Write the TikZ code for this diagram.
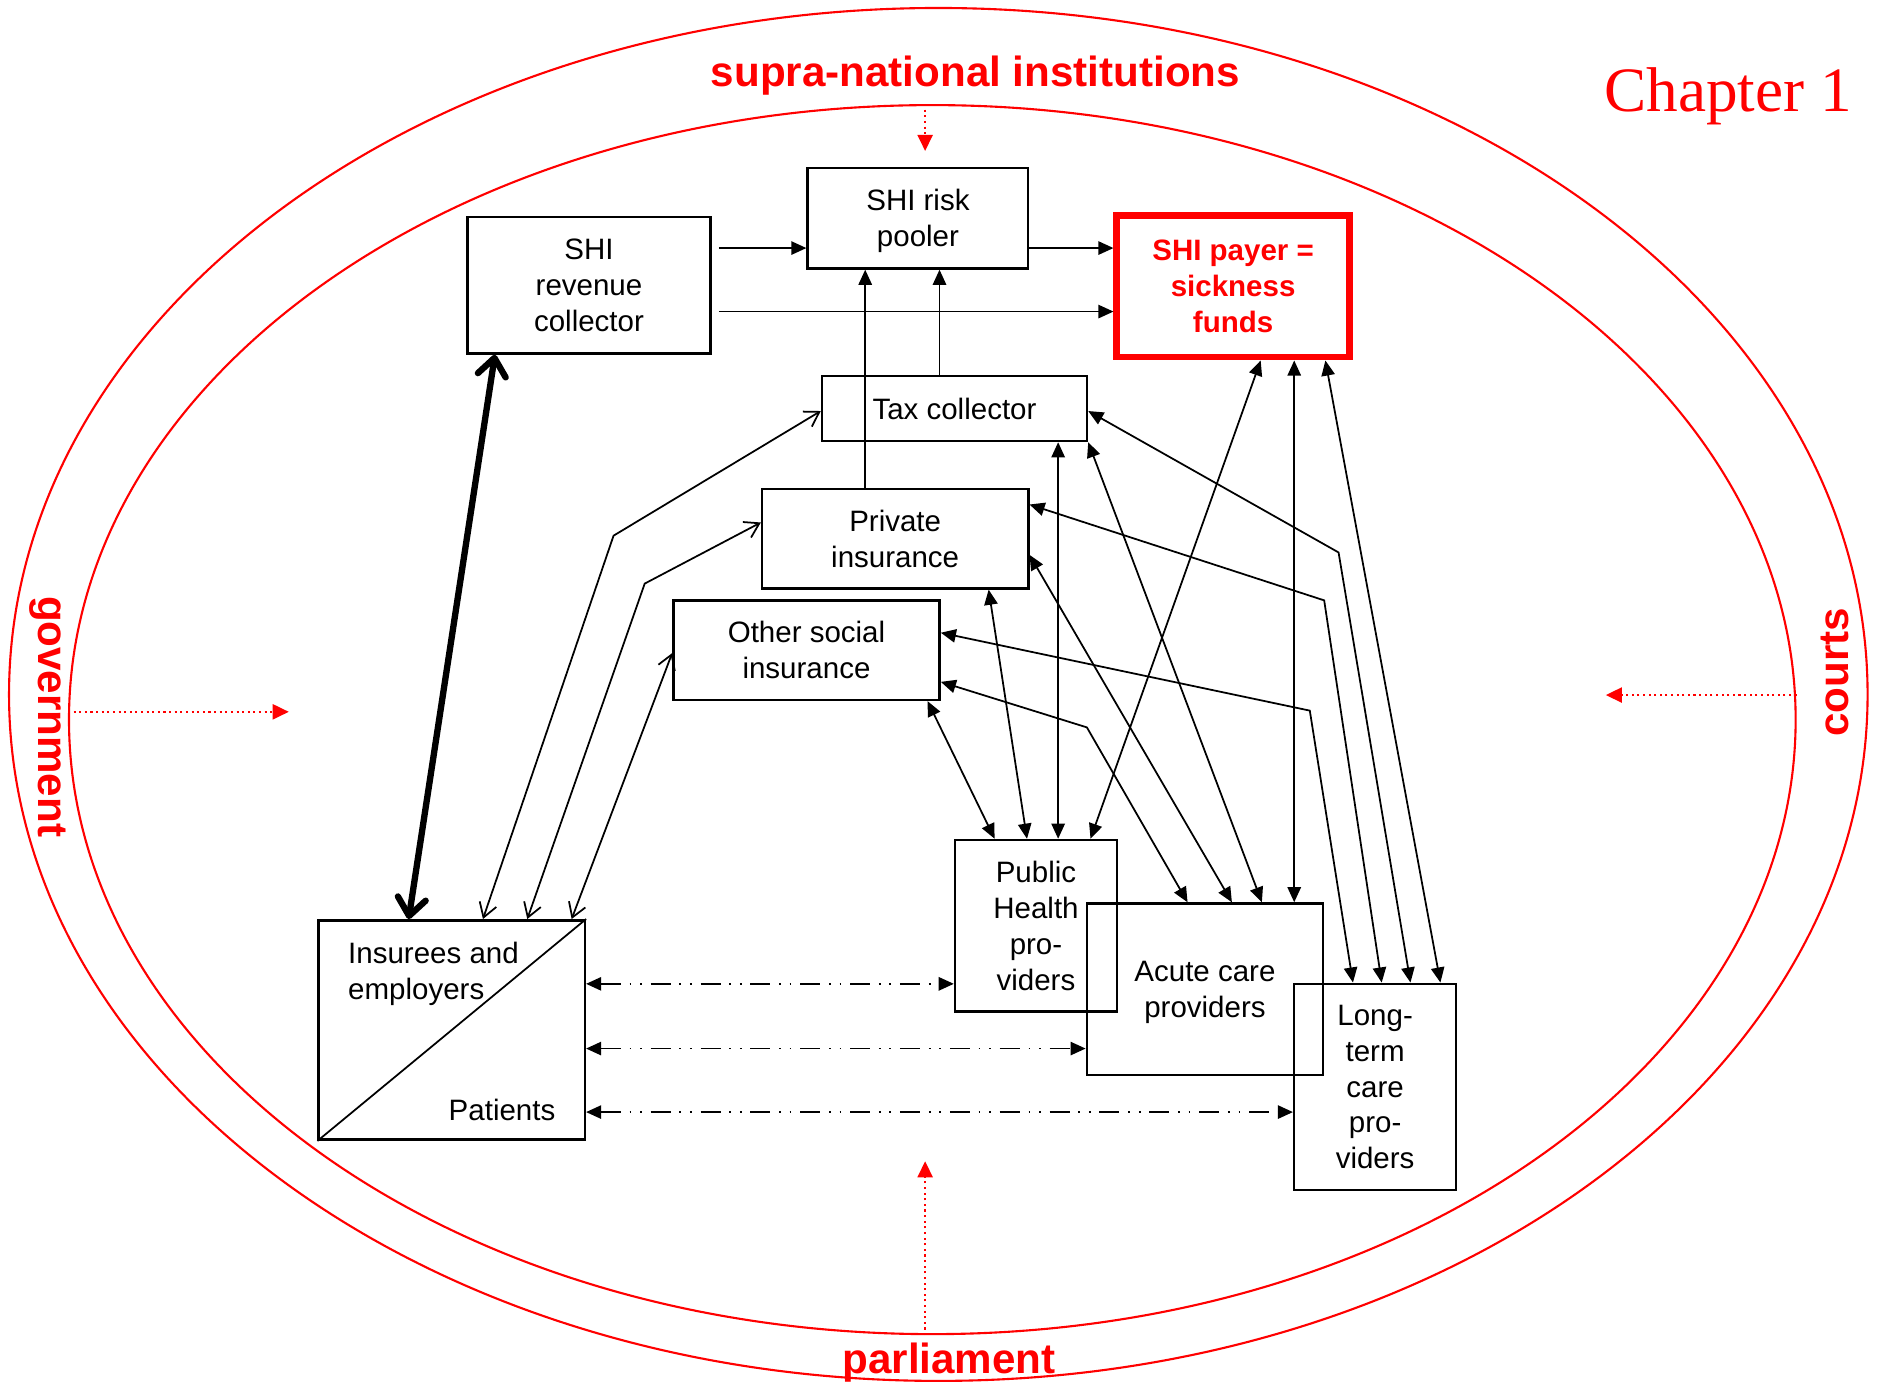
\documentclass[tikz,border=0pt]{standalone}
\usepackage{fontspec}
\setmainfont{Liberation Sans}
\newfontfamily\chapfont{Liberation Serif}
\usepackage{tikz}
\usetikzlibrary{arrows.meta,shapes.geometric}

\begin{document}
\begin{tikzpicture}[x=0.012cm,y=-0.012cm,
	box/.style={draw,line width=0.7pt,inner sep=0pt,align=center,text depth=0pt,
		font=\fontsize{8.4}{10.2}\selectfont},
	paybox/.style={box,draw=red,line width=1.9pt,text=red,
		font=\bfseries\fontsize{8.4}{10.2}\selectfont},
	ring/.style={draw=red,line width=0.6pt,ellipse,inner sep=0pt},
	lbl/.style={text=red,inner sep=0pt,font=\bfseries\fontsize{12}{14}\selectfont},
	flow/.style={line width=0.5pt,-{Triangle[length=4.3pt,width=3.8pt]}},
	flowboth/.style={line width=0.5pt,
		{Triangle[length=4.3pt,width=3.8pt]}-{Triangle[length=4.3pt,width=3.8pt]}},
	openboth/.style={line width=0.5pt,
		{Straight Barb[length=4pt,width=5pt]}-{Straight Barb[length=4pt,width=5pt]}},
	thickboth/.style={line width=1.8pt,line cap=round,
		{Straight Barb[length=5pt,width=8pt,line cap=round,line join=round]}-{Straight Barb[length=5pt,width=8pt,line cap=round,line join=round]}},
	dashboth/.style={flowboth,dash pattern=on 5.7pt off 2.5pt on 0.5pt off 2.5pt on 0.5pt off 2.5pt},
	govarr/.style={red,line width=0.6pt,densely dotted,-{Triangle[length=4.6pt,width=4.3pt]}}
	]
	\useasboundingbox (0,0) rectangle (1568,1153);
	%% rings
	\node[ring,minimum width=18.6cm,minimum height=13.74cm] (outer) at (783,579.5) {};
	\node[ring,minimum width=17.28cm,minimum height=12.3cm] (inner) at (778,600.5) {};
	\node[lbl,anchor=base] (supra) at (814,72) {supra-national institutions};
	\node[lbl,anchor=base] (parl) at (792,1146) {parliament};
	\node[lbl,rotate=-90] (govt) at (40,598) {government};
	\node[lbl,rotate=90] (court) at (1531,561) {courts};
	\node[text=red,inner sep=0pt,anchor=base,font=\chapfont\fontsize{18}{20}\selectfont] (chap) at (1442,93) {Chapter 1};
	\coordinate (supratip) at (772,126);
	\coordinate (parltip) at (772,969);
	\coordinate (govtip) at (241,594);
	\coordinate (courttip) at (1340,580);
	%% boxes
	\node[box,minimum width=2.436cm,minimum height=1.368cm] (srev) at (491.5,238) {SHI\\revenue\\collector};
	\node[box,minimum width=2.208cm,minimum height=1.008cm] (pool) at (766,182) {SHI risk\\pooler};
	\node[paybox,minimum width=2.328cm,minimum height=1.416cm] (payer) at (1029,239) {SHI payer =\\sickness\\funds};
	\node[box,minimum width=2.652cm,minimum height=0.648cm] (tax) at (796.5,341) {Tax collector};
	\node[box,minimum width=2.664cm,minimum height=0.996cm] (priv) at (747,449.5) {Private\\insurance};
	\node[box,minimum width=2.664cm,minimum height=0.996cm] (oth) at (673,542.5) {Other social\\insurance};
	\node[box,minimum width=1.62cm,minimum height=1.716cm] (pub) at (864.5,772.5) {Public\\Health\\pro-\\viders};
	\node[box,minimum width=2.364cm,minimum height=1.716cm] (acu) at (1005.5,825.5) {Acute care\\providers};
	\node[box,minimum width=1.62cm,minimum height=2.064cm] (ltc) at (1147.5,907) {Long-\\term\\care\\pro-\\viders};
	\node[box,minimum width=2.664cm,minimum height=2.196cm] (ins) at (377,859.5) {};
	\node[anchor=north west,inner sep=0pt,align=left,font=\fontsize{8.4}{10.2}\selectfont] (insu) at (290,786) {Insurees and\\employers};
	\node[anchor=base east,inner sep=0pt,font=\fontsize{8.4}{10.2}\selectfont] (pat) at (464,935) {Patients};
	\draw[line width=0.5pt] (ins.south west) -- (ins.north east);
	%% red arrows
	\draw[govarr] (772,0 |- inner.north) -- (supratip);
	\draw[govarr] (772,0 |- inner.south) -- (parltip);
	\draw[govarr] (inner.west |- 0,594) -- (govtip);
	\draw[govarr] (inner.east |- 0,580) -- (courttip);
	%% money flows
	\draw[flow,shorten <=2pt] (srev.east |- 0,207) -- (pool.west |- 0,207);
	\draw[flow,shorten <=2pt] (srev.east |- 0,260) -- (payer.west |- 0,260);
	\draw[flow] (pool.east |- 0,207) -- (payer.west |- 0,207);
	\draw[flow] (722,0 |- priv.north) -- (722,0 |- pool.south);
	\draw[flow] (784,0 |- tax.north) -- (784,0 |- pool.south);
	\draw[thickboth] (413,0 |- srev.south) -- (341,0 |- ins.north);
	\draw[openboth] (403,0 |- ins.north) -- (512,447) -- (tax.west |- 0,343);
	\draw[openboth] (440,0 |- ins.north) -- (538,487) -- (priv.west |- 0,436);
	\draw[openboth] (477,0 |- ins.north) -- (oth.west |- 0,545);
	\draw[dashboth] (ins.east |- 0,821) -- (pub.west |- 0,821);
	\draw[dashboth] (ins.east |- 0,875) -- (acu.west |- 0,875);
	\draw[dashboth] (ins.east |- 0,928) -- (ltc.west |- 0,928);
	%% to public health
	\draw[flowboth] (774,0 |- oth.south) -- (830,0 |- pub.north);
	\draw[flowboth] (825,0 |- priv.south) -- (857,0 |- pub.north);
	\draw[flowboth] (883,0 |- tax.south) -- (883,0 |- pub.north);
	\draw[flowboth] (1052,0 |- payer.south) -- (910,0 |- pub.north);
	%% to acute care
	\draw[flowboth] (oth.east |- 0,569) -- (907,607) -- (991,0 |- acu.north);
	\draw[flowboth] (priv.east |- 0,463) -- (1028,0 |- acu.north);
	\draw[flowboth] (tax.south east) -- (1053,0 |- acu.north);
	\draw[flowboth] (1080,0 |- payer.south) -- (1080,0 |- acu.north);
	%% to long-term care
	\draw[flowboth] (oth.east |- 0,528) -- (1093,593) -- (1129,0 |- ltc.north);
	\draw[flowboth] (priv.east |- 0,421) -- (1105,501) -- (1153,0 |- ltc.north);
	\draw[flowboth] (tax.east |- 0,343) -- (1117,461) -- (1177,0 |- ltc.north);
	\draw[flowboth] (1106,0 |- payer.south) -- (1202,0 |- ltc.north);
\end{tikzpicture}
\end{document}
